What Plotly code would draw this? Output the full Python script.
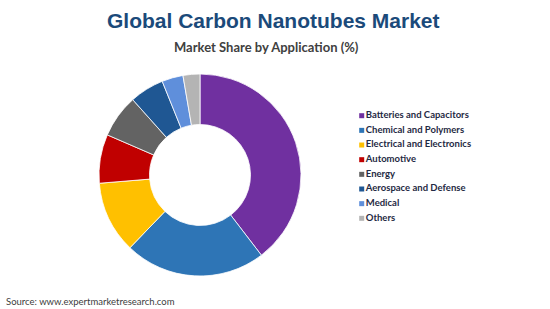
import plotly.graph_objects as go

categories = ["Batteries and Capacitors", "Chemical and Polymers", "Electrical and Electronics",
              "Automotive", "Energy", "Aerospace and Defense", "Medical", "Others"]
shares = [39.6, 22.6, 11.5, 7.8, 6.9, 5.5, 3.4, 2.7]
colors = ["#7030A0", "#2E75B6", "#FFC000", "#C00000", "#636363", "#1F5793", "#5F8FDB", "#B4B4B4"]

W, H = 550, 309
cx, cy, r = 200, 175, 101

fig = go.Figure()
fig.add_trace(go.Pie(
    labels=categories, values=shares, sort=False, direction="clockwise", rotation=0,
    hole=0.5, marker=dict(colors=colors, line=dict(color="white", width=0.8)),
    textinfo="none", showlegend=False, hoverinfo="label+value",
    domain=dict(x=[(cx - r) / W, (cx + r) / W], y=[(H - cy - r) / H, (H - cy + r) / H]),
))

# custom legend (compact spacing)
ly0, ldy, lx = 115.7, 14.66, 361.7
ys = [ly0 + i * ldy for i in range(len(categories))]
fig.add_trace(go.Scatter(
    x=[lx] * len(categories), y=ys, mode="markers+text",
    marker=dict(symbol="square", size=5, color=colors),
    text=["<b>" + c + "</b>" for c in categories], textposition="middle right",
    textfont=dict(family="Lato", size=9.5, color="#1F2A44"),
    showlegend=False, hoverinfo="skip", cliponaxis=False,
))

fig.update_layout(
    width=W, height=H, margin=dict(l=0, r=0, t=0, b=0),
    paper_bgcolor="white", plot_bgcolor="rgba(0,0,0,0)",
    xaxis=dict(range=[0, W], visible=False, domain=[0, 1], fixedrange=True),
    yaxis=dict(range=[H, 0], visible=False, domain=[0, 1], fixedrange=True),
    showlegend=False,
    annotations=[
        dict(text="<b>Global Carbon Nanotubes Market</b>", x=273 / W, y=1 - 21 / H, xref="paper", yref="paper",
             xanchor="center", yanchor="middle", showarrow=False,
             font=dict(family="Liberation Sans, Arial", size=21, color="#1B4A7A")),
        dict(text="<b>Market Share by Application (%)</b>", x=266 / W, y=1 - 47 / H, xref="paper", yref="paper",
             xanchor="center", yanchor="middle", showarrow=False,
             font=dict(family="Lato", size=13, color="#404040")),
        dict(text="Source: www.expertmarketresearch.com", x=4 / W, y=1 - 301 / H, xref="paper", yref="paper",
             xanchor="left", yanchor="middle", showarrow=False,
             font=dict(family="Lato", size=9.5, color="#404040")),
    ],
)

fig.write_html("out.html")
